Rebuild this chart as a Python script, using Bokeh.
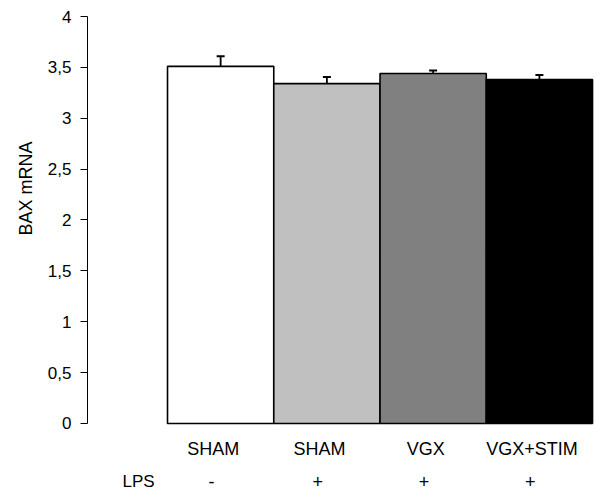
from bokeh.plotting import figure
from bokeh.models import ColumnDataSource, Whisker, TeeHead, FixedTicker, Label, Range1d, Title
from bokeh.embed import file_html
from bokeh.resources import INLINE

# data
groups = ["SHAM", "SHAM", "VGX", "VGX+STIM"]
lps = ["-", "+", "+", "+"]
values = [3.51, 3.34, 3.44, 3.38]
errors = [0.10, 0.065, 0.03, 0.045]
colors = ["#ffffff", "#c0c0c0", "#808080", "#000000"]
yticks = [0, 0.5, 1, 1.5, 2, 2.5, 3, 3.5, 4]
ytick_labels = ["0", "0,5", "1", "1,5", "2", "2,5", "3", "3,5", "4"]

xpos = [i + 1 for i in range(len(groups))]
src = ColumnDataSource(dict(
    x=xpos, top=values, hi=[v + e for v, e in zip(values, errors)], color=colors,
))

FONT = "Liberation Sans"

p = figure(width=600, height=499, output_backend="svg", toolbar_location=None,
           x_range=Range1d(-0.253, 4.575), y_range=Range1d(-0.747, 4),
           min_border_left=87, min_border_right=0, min_border_top=16, min_border_bottom=0)
p.outline_line_color = None
p.xgrid.visible = False
p.ygrid.visible = False
p.xaxis.visible = False

p.vbar(x="x", top="top", bottom=0, width=1.0, source=src, fill_color="color",
       line_color="black", line_width=1.6)

w = Whisker(source=src, base="x", lower="top", upper="hi", dimension="height",
            line_color="black", line_width=1.8, lower_head=None,
            upper_head=TeeHead(size=8, line_color="black", line_width=2))
p.add_layout(w)

ya = p.yaxis[0]
ya.bounds = (yticks[0], yticks[-1])
ya.ticker = FixedTicker(ticks=yticks)
ya.major_label_overrides = {t: l for t, l in zip(yticks, ytick_labels)}
ya.minor_tick_line_color = None
ya.major_tick_in = 0
ya.major_tick_out = 7
ya.major_label_standoff = 9
ya.major_label_text_font = FONT
ya.major_label_text_font_size = "17px"
ya.major_label_text_color = "black"
ya.axis_line_color = "black"
ya.major_tick_line_color = "black"

ttl = Title(text="BAX mRNA", align="left", offset=264, standoff=18, text_font=FONT,
            text_font_size="18px", text_font_style="normal", text_color="black")
p.add_layout(ttl, "left")

for xi, g, s in zip(xpos, groups, lps):
    p.add_layout(Label(x=xi - 0.07, y=51, x_units="data", y_units="screen", text=g,
                       text_align="center", text_baseline="middle",
                       text_font=FONT, text_font_size="18px", text_color="black"))
    p.add_layout(Label(x=xi - 0.085, y=18, x_units="data", y_units="screen", text=s,
                       text_align="center", text_baseline="middle",
                       text_font=FONT, text_font_size="18px", text_color="black"))
p.add_layout(Label(x=0.227, y=18, x_units="data", y_units="screen", text="LPS",
                   text_align="center", text_baseline="middle",
                   text_font=FONT, text_font_size="17px", text_color="black"))

open("out.html", "w").write(file_html(p, INLINE))
